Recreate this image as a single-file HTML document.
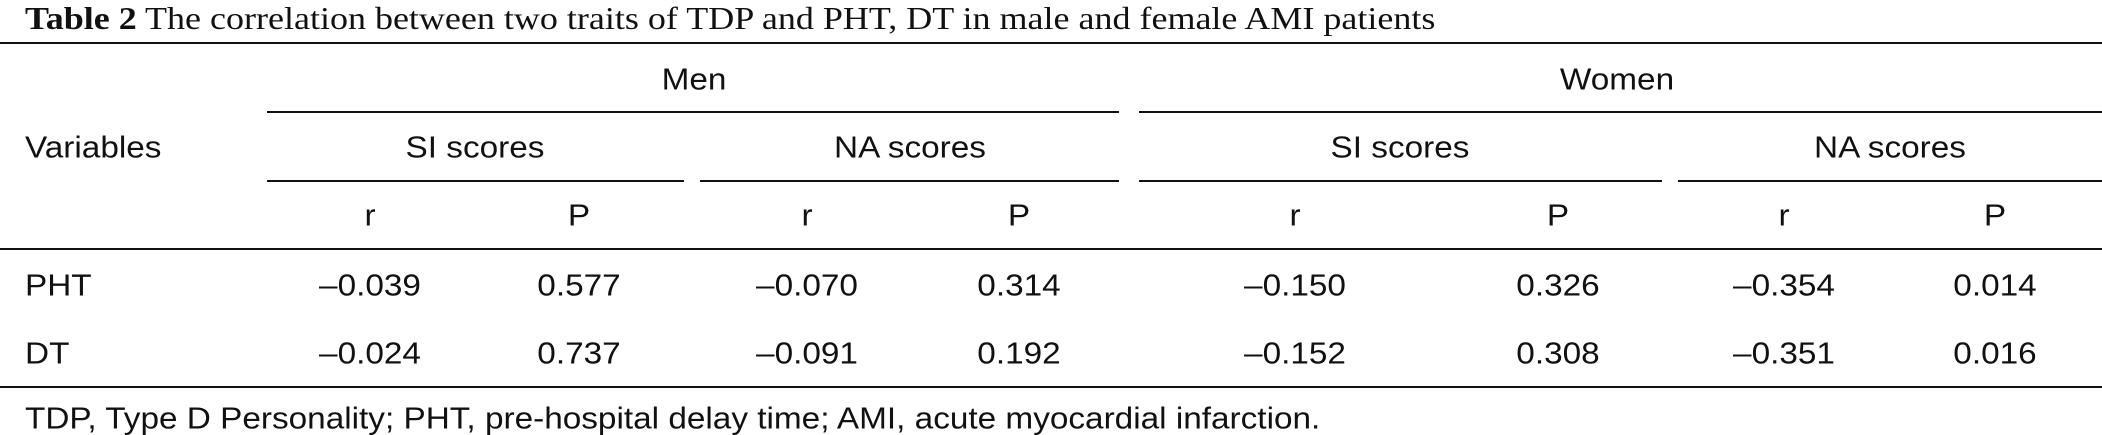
<!DOCTYPE html>
<html><head><meta charset="utf-8"><style>
body{margin:0;background:#fff;}
#t{position:relative;width:2102px;height:435px;overflow:hidden;font-family:"Liberation Sans",Arial,sans-serif;color:#111;}
.s{position:absolute;font-size:31px;line-height:1;white-space:nowrap;transform:translate(-50%,-50%) scaleX(1.075);}
.l{position:absolute;font-size:31px;line-height:1;white-space:nowrap;transform:translateY(-50%) scaleX(1.075);transform-origin:left center;}
.r{position:absolute;background:#111;}
</style></head><body>
<div id="t">
<div style="position:absolute;left:25px;top:0px;font-family:'Liberation Serif',serif;font-size:32px;white-space:nowrap;transform:scaleX(1.125);transform-origin:left top;"><b>Table 2</b> The correlation between two traits of TDP and PHT, DT in male and female AMI patients</div>
<div class="r" style="left:0;top:42px;width:2102px;height:2px"></div>
<div class="s" style="left:694px;top:79px">Men</div>
<div class="s" style="left:1617px;top:79px">Women</div>
<div class="r" style="left:267px;top:111px;width:852px;height:2px"></div>
<div class="r" style="left:1139px;top:111px;width:963px;height:2px"></div>
<div class="l" style="left:25px;top:147px">Variables</div>
<div class="s" style="left:475px;top:147px">SI scores</div>
<div class="s" style="left:910px;top:147px">NA scores</div>
<div class="s" style="left:1400px;top:147px">SI scores</div>
<div class="s" style="left:1890px;top:147px">NA scores</div>
<div class="r" style="left:267px;top:180px;width:417px;height:2px"></div>
<div class="r" style="left:700px;top:180px;width:419px;height:2px"></div>
<div class="r" style="left:1139px;top:180px;width:523px;height:2px"></div>
<div class="r" style="left:1678px;top:180px;width:424px;height:2px"></div>
<div class="s" style="left:370px;top:215px">r</div>
<div class="s" style="left:579px;top:215px">P</div>
<div class="s" style="left:807px;top:215px">r</div>
<div class="s" style="left:1019px;top:215px">P</div>
<div class="s" style="left:1295px;top:215px">r</div>
<div class="s" style="left:1558px;top:215px">P</div>
<div class="s" style="left:1784px;top:215px">r</div>
<div class="s" style="left:1995px;top:215px">P</div>
<div class="r" style="left:0;top:248px;width:2102px;height:2px"></div>
<div class="l" style="left:25px;top:285px">PHT</div>
<div class="s" style="left:370px;top:285px">–0.039</div>
<div class="s" style="left:579px;top:285px">0.577</div>
<div class="s" style="left:807px;top:285px">–0.070</div>
<div class="s" style="left:1019px;top:285px">0.314</div>
<div class="s" style="left:1295px;top:285px">–0.150</div>
<div class="s" style="left:1558px;top:285px">0.326</div>
<div class="s" style="left:1784px;top:285px">–0.354</div>
<div class="s" style="left:1995px;top:285px">0.014</div>
<div class="l" style="left:25px;top:353px">DT</div>
<div class="s" style="left:370px;top:353px">–0.024</div>
<div class="s" style="left:579px;top:353px">0.737</div>
<div class="s" style="left:807px;top:353px">–0.091</div>
<div class="s" style="left:1019px;top:353px">0.192</div>
<div class="s" style="left:1295px;top:353px">–0.152</div>
<div class="s" style="left:1558px;top:353px">0.308</div>
<div class="s" style="left:1784px;top:353px">–0.351</div>
<div class="s" style="left:1995px;top:353px">0.016</div>
<div class="r" style="left:0;top:386px;width:2102px;height:2px"></div>
<div class="l" style="left:25px;top:418px">TDP, Type D Personality; PHT, pre-hospital delay time; AMI, acute myocardial infarction.</div>
</div>
</body></html>
